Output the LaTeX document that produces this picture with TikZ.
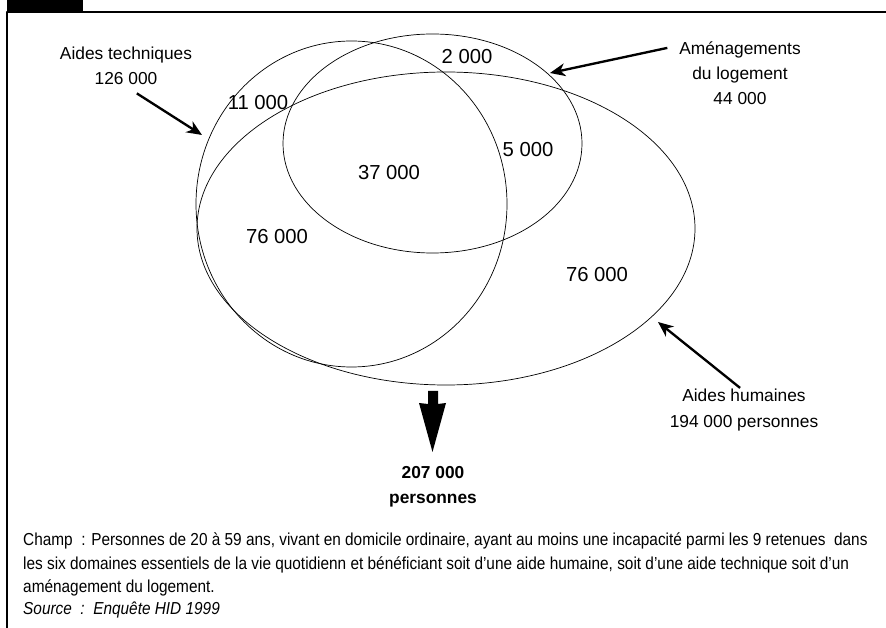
\documentclass[tikz,border=0pt]{standalone}
\usepackage{fontspec}
\setmainfont{Liberation Sans}
\usetikzlibrary{arrows.meta}
\begin{document}
\begin{tikzpicture}[x=0.03cm, y=-0.03cm, line join=round,
	lbl/.style={align=center, inner sep=1pt, font=\fontsize{14.8}{21.5}\selectfont},
	num/.style={inner sep=0pt, font=\fontsize{17.3}{20}\selectfont},
	venn/.style={line width=0.6pt},
	pointer/.style={line width=2pt, -{Stealth[length=13pt, width=11pt, inset=4pt]}},
	note/.style={anchor=base west, inner sep=0pt, xscale=0.887, font=\fontsize{14.8}{18}\selectfont}]
\useasboundingbox (0,0) rectangle (886,628);
% frame
\fill (7,0) rectangle (83,11);
\draw[line width=1pt] (886,12) -- (7,12) -- (7,628);
% the three sets
\draw[venn] (351.5,204) ellipse [x radius=155.5, y radius=163];
\draw[venn] (432.5,143.5) ellipse [x radius=149.5, y radius=109.5];
\draw[venn] (446,228.5) ellipse [x radius=249, y radius=156.5];
% counts
\node[num] (n11) at (258,103) {11 000};
\node[num] (n2) at (467,57) {2 000};
\node[num] (n5) at (528,150) {5 000};
\node[num] (n37) at (389,173) {37 000};
\node[num] (n76a) at (277,237) {76 000};
\node[num] (n76b) at (597,275) {76 000};
% labels and pointers
\node[lbl] (aidtech) at (126,66) {Aides techniques\\126 000};
\node[lbl] (amen) at (740,73) {Aménagements\\du logement\\44 000};
\node[lbl] (aidhum) at (744,410) {Aides humaines\\194 000 personnes};
\coordinate (tiptech) at (202,135);
\coordinate (tipamen) at (550,73);
\coordinate (tiphum) at (658,322);
\draw[pointer] ([yshift=-6pt]aidtech.-62) -- (tiptech);
\draw[pointer] ([xshift=-9pt]amen.158) -- (tipamen);
\draw[pointer] (aidhum.100) -- (tiphum);
% total
\node[lbl, font=\fontsize{14.8}{21.5}\selectfont\bfseries] (total) at (433,487) {207 000\\personnes};
\fill (428,391) -- (438,391) -- (438,404) -- (446,403) -- (432.5,452) -- (419,403) -- (428,404) -- cycle;
% note
\node[note] (champ) at (23,546) {Champ~~: Personnes de 20 à 59 ans, vivant en domicile ordinaire, ayant au moins une incapacité parmi les 9 retenues~~dans};
\node[note] (domaines) at (23,569) {les six domaines essentiels de la vie quotidienn et bénéficiant soit d’une aide humaine, soit d’une aide technique soit d’un};
\node[note] (amenag) at (23,592) {aménagement du logement.};
\node[note, font=\fontsize{14.8}{18}\selectfont\itshape] (source) at (23,614) {Source~~:~~Enquête HID 1999};
\end{tikzpicture}
\end{document}
